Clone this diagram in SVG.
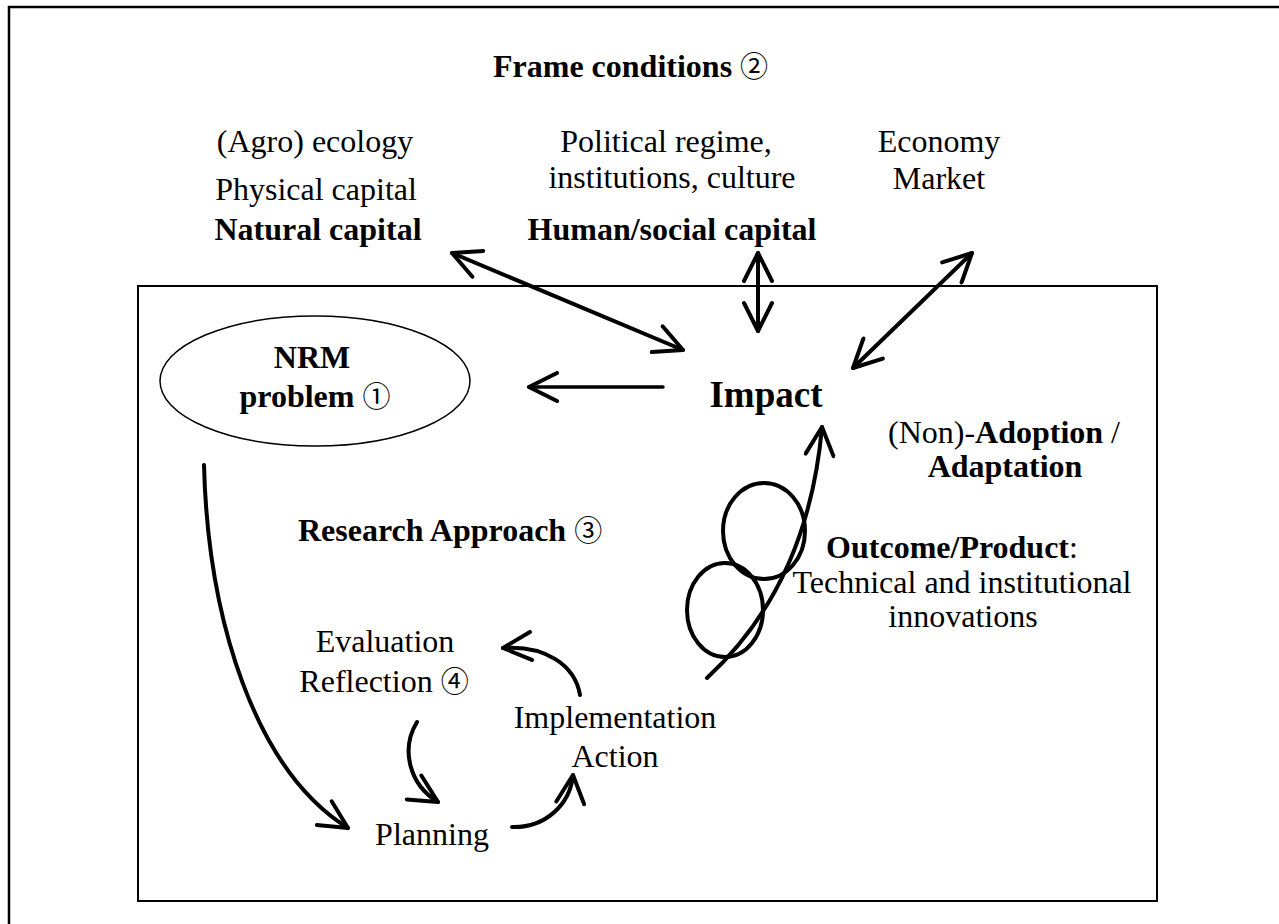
<svg xmlns="http://www.w3.org/2000/svg" width="1279" height="924" viewBox="0 0 1279 924">
<style>
text{font-family:"Liberation Serif","Times New Roman",serif;font-size:32px;fill:#000}
.b{font-weight:bold}
.cd{font-family:"Noto Sans CJK JP","DejaVu Sans",sans-serif;font-weight:normal;font-size:28px}
.ln{fill:none;stroke:#000;stroke-width:4;stroke-linecap:round}
.frame{fill:none;stroke:#000}
</style>
<defs>
<marker id="ah" viewBox="-31 -16 35 32" refX="0" refY="0" markerWidth="35" markerHeight="32" markerUnits="userSpaceOnUse" orient="auto-start-reverse">
<path d="M-28,-14 L0,0 L-28,14" fill="none" stroke="#000" stroke-width="4" stroke-linecap="round" stroke-linejoin="round"/>
</marker>
</defs>
<rect width="1279" height="924" fill="#fff"/>
<rect class="frame" x="9" y="7" width="1300" height="1000" stroke-width="2.5"/>
<g id="frame-title"><text x="493" y="77" class="b">Frame conditions <tspan class="cd">②</tspan></text></g>
<g id="ecology">
<text x="315" y="152" text-anchor="middle">(Agro) ecology</text>
<text x="316" y="200" text-anchor="middle">Physical capital</text>
<text x="318" y="240" text-anchor="middle" class="b">Natural capital</text>
</g>
<g id="political">
<text x="666" y="152" text-anchor="middle">Political regime,</text>
<text x="672" y="188" text-anchor="middle">institutions, culture</text>
<text x="672" y="240" text-anchor="middle" class="b">Human/social capital</text>
</g>
<g id="economy">
<text x="939" y="152" text-anchor="middle">Economy</text>
<text x="939" y="189" text-anchor="middle">Market</text>
</g>
<g id="research-box"><rect class="frame" x="138" y="286" width="1019" height="615" stroke-width="2"/></g>
<g id="nrm-problem">
<ellipse cx="315" cy="381" rx="155" ry="65" fill="none" stroke="#000" stroke-width="1.5"/>
<text x="312" y="368" text-anchor="middle" class="b">NRM</text>
<text x="315" y="407" text-anchor="middle" class="b">problem <tspan class="cd">①</tspan></text>
</g>
<g id="impact"><text x="766" y="407" text-anchor="middle" class="b" style="font-size:37px">Impact</text></g>
<g id="adoption">
<text x="1004" y="443" text-anchor="middle">(Non)-<tspan class="b">Adoption</tspan> /</text>
<text x="1005" y="477" text-anchor="middle" class="b">Adaptation</text>
</g>
<g id="outcome">
<text x="952" y="558" text-anchor="middle"><tspan class="b">Outcome/Product</tspan>:</text>
<text x="962" y="593" text-anchor="middle">Technical and institutional</text>
<text x="963" y="627" text-anchor="middle">innovations</text>
</g>
<g id="research-approach"><text x="298" y="541" class="b">Research Approach <tspan class="cd">③</tspan></text></g>
<g id="evaluation">
<text x="385" y="652" text-anchor="middle">Evaluation</text>
<text x="384" y="692" text-anchor="middle">Reflection <tspan class="cd">④</tspan></text>
</g>
<g id="implementation">
<text x="615" y="728" text-anchor="middle">Implementation</text>
<text x="615" y="767" text-anchor="middle">Action</text>
</g>
<g id="planning"><text x="432" y="845" text-anchor="middle">Planning</text></g>
<g id="loops">
<ellipse cx="764" cy="531" rx="41" ry="48" fill="none" stroke="#000" stroke-width="4"/>
<ellipse cx="725" cy="610" rx="38" ry="47" fill="none" stroke="#000" stroke-width="4"/>
</g>
<g id="connectors">
<path class="ln" d="M452,253 L683,350" marker-start="url(#ah)" marker-end="url(#ah)"/>
<path class="ln" d="M758,253 L758,331" marker-start="url(#ah)" marker-end="url(#ah)"/>
<path class="ln" d="M972,253 L853,368" marker-start="url(#ah)" marker-end="url(#ah)"/>
<path class="ln" d="M663,387 L529,387" marker-end="url(#ah)" style="stroke-width:3.5"/>
<path class="ln" d="M204,465 C208,620 255,770 348,828" marker-end="url(#ah)"/>
<path class="ln" d="M707,678 C770,620 812,540 822,427" marker-end="url(#ah)"/>
<path class="ln" d="M580,695 C575,665 545,645 503,648" marker-end="url(#ah)"/>
<path class="ln" d="M417,722 C400,750 410,785 438,802" marker-end="url(#ah)"/>
<path class="ln" d="M512,827 C545,828 570,805 573,775" marker-end="url(#ah)"/>
</g>
</svg>
